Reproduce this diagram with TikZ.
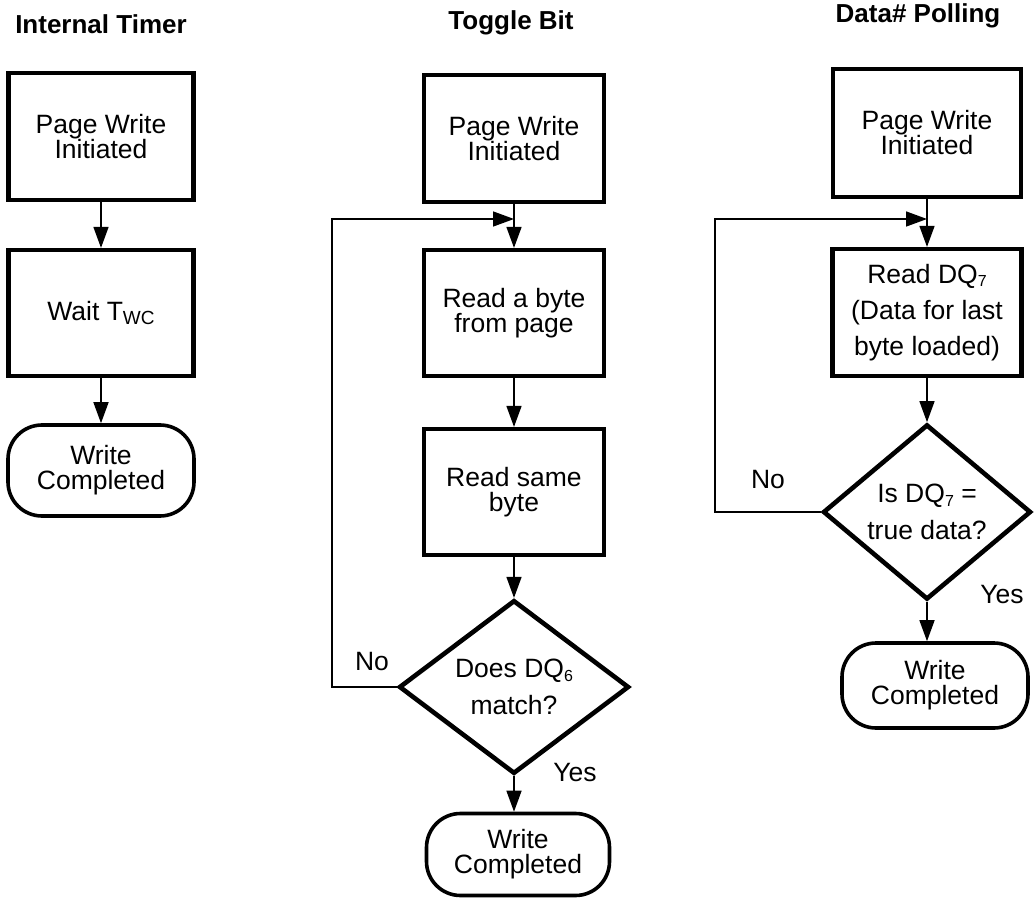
\documentclass[tikz,border=0pt]{standalone}
\usepackage{fontspec}
\setmainfont{Liberation Sans}
\usetikzlibrary{arrows.meta,shapes.geometric}
\newcommand{\lowsub}[2][16]{\raisebox{-3.5pt}{\fontsize{#1}{#1}\selectfont #2}}
\begin{document}
\begin{tikzpicture}[x=1pt,y=-1pt,
  title/.style={font=\fontsize{26}{26}\selectfont\bfseries, inner sep=0pt},
  box/.style={draw, line width=4.2pt, align=center, inner sep=0pt,
    font=\fontsize{26.5}{25}\selectfont},
  term/.style={draw, line width=3.6pt, rounded corners=34pt, align=center, inner sep=0pt,
    font=\fontsize{26.5}{25}\selectfont},
  dia/.style={draw, diamond, line width=4.6pt, align=center, inner sep=0pt,
    font=\fontsize{26.5}{37}\selectfont},
  lbl/.style={font=\fontsize{26.5}{26}\selectfont, inner sep=0pt},
  conn/.style={line width=1.5pt, -{Triangle[length=21pt,width=15pt]}}
]
\useasboundingbox (0,0) rectangle (1036,901);

% titles
\node[title] (t1) at (101,24) {Internal Timer};
\node[title] (t2) at (511,23) {Toggle Bit};
\node[title] (t3) at (918,16) {Data\# Polling};

% Internal Timer column
\node[box, minimum width=185pt, minimum height=127pt] (a1) at (101,136.5) {Page Write\\Initiated};
\node[box, minimum width=185pt, minimum height=126pt] (a2) at (101,313) {Wait T\lowsub[19]{WC}};
\node[term, minimum width=186pt, minimum height=91pt] (a3) at (101,470.5) {Write\\Completed};
\draw[conn] (a1) -- (a2);
\draw[conn] (a2) -- (a3);

% Toggle Bit column
\node[box, minimum width=180pt, minimum height=127pt] (b1) at (514,138.5) {Page Write\\Initiated};
\node[box, minimum width=180pt, minimum height=126pt] (b2) at (514,313) {Read a byte\\from page};
\node[box, minimum width=180pt, minimum height=126pt] (b3) at (514,492) {Read same\\byte};
\node[dia, minimum width=230pt, minimum height=160pt] (b4) at (514,687) {Does DQ\lowsub{6}\\match?};
\node[term, minimum width=183pt, minimum height=82pt] (b5) at (518,854.5) {Write\\Completed};
\coordinate (m2) at (514,219);
\coordinate (k2) at (332,219);
\draw[conn] (b1) -- (b2);
\draw[conn] (b2) -- (b3);
\draw[conn] (b3) -- (b4);
\draw[conn] (b4.south) -- (b4.south |- b5.north);
\draw[conn] (b4.west) -| (k2) -- (m2);
\node[lbl] (n2) at (372,662) {No};
\node[lbl] (y2) at (575,773) {Yes};

% Data# Polling column
\node[box, minimum width=188pt, minimum height=128pt] (c1) at (927,133) {Page Write\\Initiated};
\node[box, minimum width=189pt, minimum height=127pt, font=\fontsize{26.5}{36}\selectfont] (c2) at (927,312.5) {Read DQ\lowsub{7}\\(Data for last\\byte loaded)};
\node[dia, minimum width=208pt, minimum height=165pt] (c3) at (927,512) {Is DQ\lowsub{7} =\\true data?};
\node[term, minimum width=186pt, minimum height=85pt] (c4) at (935,685.5) {Write\\Completed};
\coordinate (m3) at (927,219);
\coordinate (k3) at (715,219);
\draw[conn] (c1) -- (c2);
\draw[conn] (c2) -- (c3);
\draw[conn] (c3.south) -- (c3.south |- c4.north);
\draw[conn] (c3.west) -| (k3) -- (m3);
\node[lbl] (n3) at (768,480) {No};
\node[lbl] (y3) at (1002,595) {Yes};
\end{tikzpicture}
\end{document}
